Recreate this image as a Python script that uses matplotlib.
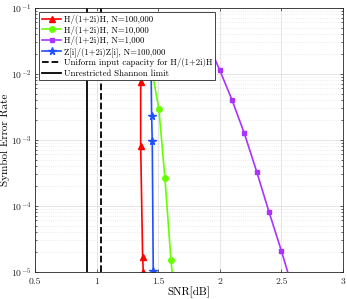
import numpy as np
import matplotlib
matplotlib.use('Agg')
import matplotlib.pyplot as plt

plt.rcParams['font.family'] = 'cmr10'
plt.rcParams['mathtext.fontset'] = 'cm'
plt.rcParams['axes.formatter.use_mathtext'] = True

#------------------#
# data read off    #
#------------------#

snr_red = [1.35, 1.358, 1.358, 1.374, 1.379]
ser_red = [3e-2, 7.6e-3, 8.0e-4, 1.65e-5, 1.0e-5]

snr_green = [1.45, 1.506, 1.555, 1.604, 1.65]
ser_green = [1.1e-2, 2.9e-3, 2.6e-4, 1.5e-5, 2e-6]

snr_purple = [1.9, 2.0, 2.1, 2.2, 2.3, 2.4, 2.5, 2.6]
ser_purple = [3e-2, 1.14e-2, 4.0e-3, 1.25e-3, 3.3e-4, 8.1e-5, 2.1e-5, 5e-6]

snr_blue = [1.44, 1.447, 1.452, 1.46]
ser_blue = [3e-2, 2.3e-3, 9.5e-4, 1.03e-5]

shannon_uniform = 1.033
shannon_unres = 0.92

labels = ['H/(1+2i)H, N=100,000',
          'H/(1+2i)H, N=10,000',
          'H/(1+2i)H, N=1,000',
          'Z[i]/(1+2i)Z[i], N=100,000',
          'Uniform input capacity for H/(1+2i)H',
          'Unrestricted Shannon limit']

fig = plt.figure(figsize=(3.47, 2.99), dpi=100)
ax = fig.add_axes([0.101, 0.091, 0.887, 0.883])

ax.semilogy(snr_red, ser_red, color='#ff0000', marker='^', markersize=4.5,
            linewidth=1.2, label=labels[0])
ax.semilogy(snr_green, ser_green, color='#66ff00', marker='o', markersize=4,
            linewidth=1.2, label=labels[1])
ax.semilogy(snr_purple, ser_purple, color='#aa33ff', marker='s', markersize=3.5,
            linewidth=1.2, label=labels[2])
ax.semilogy(snr_blue, ser_blue, color='#1f4fff', marker='*', markersize=5.5,
            linewidth=1.2, label=labels[3])
ax.axvline(shannon_uniform, color='k', linestyle='--', linewidth=1.3, label=labels[4])
ax.axvline(shannon_unres, color='k', linestyle='-', linewidth=1.3, label=labels[5])

ax.set_xlim(0.5, 3)
ax.set_ylim(1e-5, 1e-1)
ax.set_xticks([0.5, 1, 1.5, 2, 2.5, 3])
ax.set_xticklabels(['0.5', '1', '1.5', '2', '2.5', '3'])

ax.grid(which='major', color='#e0e0e0', linewidth=0.6)
ax.grid(which='minor', axis='y', color='#e6e6e6', linestyle=':', linewidth=0.6)
ax.tick_params(which='both', direction='in', top=True, right=True, labelsize=7,
               length=2.5, width=0.5, colors='#262626')
ax.tick_params(axis='x', pad=4)
ax.tick_params(axis='y', pad=2.5)
ax.tick_params(which='minor', length=1.5)
for s in ax.spines.values():
    s.set_color('#262626')
    s.set_linewidth(0.6)

ax.set_xlabel('SNR[dB]', fontsize=8, labelpad=0.5)
ax.set_ylabel('Symbol Error Rate', fontsize=8, labelpad=0.5)

leg = ax.legend(loc='upper left', fontsize=6.3, handlelength=2.2, handletextpad=0.3,
                labelspacing=0.2, borderpad=0.3, borderaxespad=0.5,
                fancybox=False, framealpha=1, edgecolor='#262626')
leg.get_frame().set_linewidth(0.6)

fig.savefig('out.png', dpi=100)
